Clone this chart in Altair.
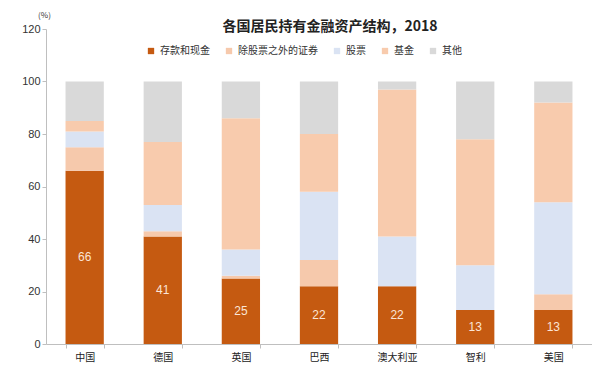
import altair as alt
import pandas as pd

countries = ["中国", "德国", "英国", "巴西", "澳大利亚", "智利", "美国"]
series = ["存款和现金", "除股票之外的证券", "股票", "基金", "其他"]
deposits = [66, 41, 25, 22, 22, 13, 13]
securities = [9, 2, 1, 10, 0, 0, 6]
stocks = [6, 10, 10, 26, 19, 17, 35]
funds = [4, 24, 50, 22, 56, 48, 38]
other = [15, 23, 14, 20, 3, 22, 8]
colors = ["#C55A11", "#F6C9AC", "#DAE3F3", "#F8CBAD", "#D9D9D9"]

values = [deposits, securities, stocks, funds, other]
rows = []
for si, (s, vals) in enumerate(zip(series, values)):
    for c, v in zip(countries, vals):
        rows.append({"country": c, "series": s, "value": v, "order": si})
df = pd.DataFrame(rows)
lab = pd.DataFrame({"country": countries, "value": deposits})
lab["mid"] = lab["value"] / 2

font = "Noto Sans CJK SC"

x = alt.X("country:N", sort=countries, title=None,
          scale=alt.Scale(paddingInner=0.51, paddingOuter=0.25),
          axis=alt.Axis(labelAngle=0, labelFont=font, labelFontSize=10, labelColor="#222",
                        domainColor="#bfbfbf", tickColor="#bfbfbf", tickBand="extent",
                        tickSize=4, labelPadding=4))

bars = alt.Chart(df).mark_bar().encode(
    x=x,
    y=alt.Y("value:Q", stack="zero",
            scale=alt.Scale(domain=[0, 120]),
            axis=alt.Axis(values=[0, 20, 40, 60, 80, 100, 120], grid=False,
                          title="(%)", titleAngle=0, titleX=-2, titleY=-10,
                          titleFontSize=8, titleFontWeight="normal", titleColor="#333",
                          titleFont=font,
                          labelFont="Liberation Sans", labelFontSize=11, labelColor="#333",
                          domainColor="#bfbfbf", tickColor="#bfbfbf", tickSize=4)),
    color=alt.Color("series:N", sort=series,
                    scale=alt.Scale(domain=series, range=colors),
                    legend=alt.Legend(title=None, orient="none", direction="horizontal",
                                      legendX=100, legendY=17, symbolType="square",
                                      symbolSize=40, symbolStrokeWidth=0,
                                      labelFont=font, labelFontSize=10, labelColor="#333",
                                      columnPadding=14, labelLimit=200)),
    order=alt.Order("order:Q", sort="ascending"),
)

text = alt.Chart(lab).mark_text(color="#FBE5D6", fontSize=12, font="Liberation Sans").encode(
    x=alt.X("country:N", sort=countries),
    y=alt.Y("mid:Q"),
    text=alt.Text("value:Q"),
)

chart = alt.layer(bars, text).properties(
    width=546, height=315,
    autosize=alt.AutoSizeParams(type="none"),
    padding={"left": 38, "top": 21, "right": 0, "bottom": 40},
    title=alt.TitleParams("各国居民持有金融资产结构，2018", font=font, fontSize=14,
                          fontWeight="bold", color="#222", anchor="middle",
                          offset=-23, dx=11),
).configure_view(stroke=None)

chart.save("out.html", embed_options={"renderer": "svg", "actions": False})
